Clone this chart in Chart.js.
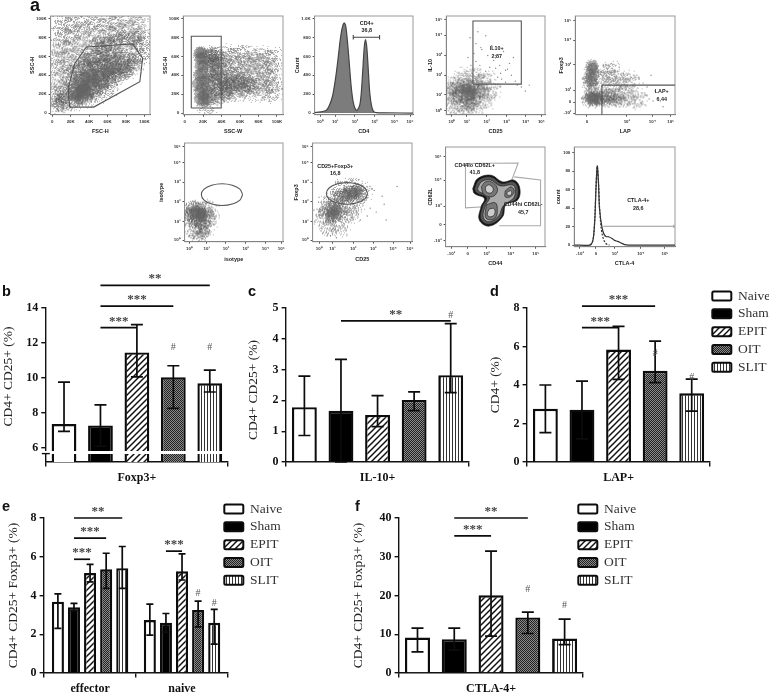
<!DOCTYPE html>
<html>
<head>
<meta charset="utf-8">
<script src="https://cdn.jsdelivr.net/npm/chart.js@4/dist/chart.umd.min.js"></script>
<style>
  html, body { margin: 0; padding: 0; background: #fff; }
  #page { position: relative; width: 769px; height: 695px; overflow: hidden; }
  canvas { position: absolute; filter: blur(0.5px); }
  .letter { position: absolute; font: bold 14.5px "Liberation Sans"; line-height: 1; color: #111; filter: blur(0.3px); }
</style>
</head>
<body>
<div id="page"></div>
<script>
// -- BAR DATA -- //
const group_names = ["Naive", "Sham", "EPIT", "OIT", "SLIT"];

const b_categories = ["Foxp3+"];
const b_means = [7.37, 7.29, 11.46, 10.04, 9.7];
const b_highs = [9.77, 8.46, 13.05, 10.7, 10.45];
const b_lows = [6.95, 6.1, 10.07, 8.27, 9.2];
const b_ticks = [6, 8, 10, 12, 14];
const b_sig_from = [1, 1, 1];
const b_sig_to = [2, 3, 4];
const b_sig_y = [12.88, 14.11, 15.29];
const b_sig_text = ["***", "***", "**"];
const b_hash_slot = [3, 4];
const b_hash_y = [11.78, 11.78];

const c_categories = ["IL-10+"];
const c_means = [1.78, 1.66, 1.53, 2.015, 2.82];
const c_highs = [2.79, 3.33, 2.155, 2.28, 4.49];
const c_lows = [0.86, 0, 1.15, 1.67, 2.25];
const c_ticks = [0, 1, 2, 3, 4, 5];
const c_sig_from = [1];
const c_sig_to = [4];
const c_sig_y = [4.58];
const c_sig_text = ["**"];
const c_hash_slot = [4];
const c_hash_y = [4.78];

const d_categories = ["LAP+"];
const d_means = [2.76, 2.72, 5.84, 4.74, 3.57];
const d_highs = [4.0, 4.2, 7.05, 6.28, 4.31];
const d_lows = [1.53, 1.2, 4.29, 4.12, 2.64];
const d_ticks = [0, 2, 4, 6, 8];
const d_sig_from = [1, 1];
const d_sig_to = [2, 3];
const d_sig_y = [6.98, 8.1];
const d_sig_text = ["***", "***"];
const d_hash_slot = [3, 4];
const d_hash_y = [5.64, 4.43];

const e_categories = ["effector", "naive"];
const e_means = [3.68, 3.39, 5.16, 5.35, 5.41, 2.73, 2.59, 5.25, 3.25, 2.59];
const e_highs = [4.08, 3.59, 5.61, 6.18, 6.53, 3.56, 3.07, 6.15, 3.71, 3.28];
const e_lows = [2.3, 3.2, 4.7, 4.37, 4.37, 1.95, 2.1, 4.8, 2.38, 1.49];
const e_ticks = [0, 2, 4, 6, 8];
const e_sig_from = [1, 1, 1, 6];
const e_sig_to = [2, 3, 4, 7];
const e_sig_y = [5.87, 6.96, 8.0, 6.29];
const e_sig_text = ["***", "***", "**", "***"];
const e_hash_slot = [8, 9];
const e_hash_y = [4.15, 3.63];

const f_categories = ["CTLA-4+"];
const f_means = [9.16, 8.73, 20.04, 14.34, 8.9];
const f_highs = [11.58, 11.58, 31.45, 15.72, 13.9];
const f_lows = [5.44, 5.9, 9.5, 10.19, 7.34];
const f_ticks = [0, 10, 20, 30, 40];
const f_sig_from = [1, 1];
const f_sig_to = [2, 3];
const f_sig_y = [35.4, 40];
const f_sig_text = ["***", "**"];
const f_hash_slot = [3, 4];
const f_hash_y = [21.77, 17.5];

// -- FLOW DATA: gates, histograms and clouds in axis units -- //
const k_ticks = [0, 20, 40, 60, 80, 100];
const k_labels = ["0", "20K", "40K", "60K", "80K", "100K"];
const iso_x_ticks = [5, 22.5, 42, 62, 82, 98.3];
const iso_y_ticks = [1.7, 20, 40.3, 60.4, 80, 96.6];
const log_labels = ["10⁰", "10¹", "10²", "10³", "10⁴", "10⁵"];

const fsc_fog = [[10,95],[22,95],[34,95],[46,97],[58,97],[70,97],[82,97],[94,97],[10,82],[22,82],[34,85],[46,85],[58,85],[70,85],[82,85],[94,85],[8,70],[20,70],[32,72],[44,72],[56,72],[68,72],[80,72],[92,72],[100,78],[8,58],[18,58],[30,60],[42,60],[54,60],[66,60],[78,60],[90,60],[100,62],[8,46],[18,46],[30,48],[42,48],[54,48],[66,50],[78,52],[90,50],[8,34],[18,34],[30,36],[42,36],[54,38],[66,40],[78,44],[7,22],[16,22],[28,22],[40,26],[52,30],[64,34],[6,10],[14,12],[24,12],[36,16],[48,20],[60,26]];
const fsc_body = [[25,45],[35,50],[45,52],[55,55],[65,55],[75,50],[85,55],[30,35],[40,40],[50,45],[60,45],[70,42],[80,45],[22,28],[32,28],[42,30],[52,35],[62,37],[24,18],[34,18],[44,22],[54,28],[10,18],[8,10],[40,58],[55,62],[70,62],[60,75],[75,80],[90,78],[50,72]];
const fsc_core = [[25,18],[30,22],[35,26],[40,32],[45,36],[50,40],[58,44],[65,47],[28,30],[35,38],[42,42],[30,14],[38,20],[28,20],[32,24],[36,28]];
const fsc_gate_x = [19, 45, 95, 98, 87.4, 37, 24.5, 17.3, 18, 19];
const fsc_gate_y = [6.3, 6.3, 33.3, 58, 73.3, 70, 52.6, 26.3, 14, 6.3];

const ssc_fog = [[45,62],[55,62],[65,62],[75,60],[85,60],[95,60],[45,52],[55,52],[65,52],[75,52],[85,50],[95,50],[45,42],[55,42],[65,42],[75,40],[85,40],[95,40],[45,33],[55,32],[65,30],[75,30],[85,30],[95,30],[45,24],[58,22],[70,22],[85,22],[95,22],[30,60],[32,40],[30,20],[25,8]];
const ssc_body = [[26,62],[30,60],[36,60],[26,54],[32,52],[38,50],[26,42],[32,40],[38,38],[26,30],[34,28],[42,28],[50,28],[60,28],[48,36],[60,36],[70,30],[26,18],[36,18],[44,20]];
const ssc_core = [[16,64],[18,64],[16,58],[18,58],[17,50],[18,42],[18,34],[18,26],[20,18],[24,14],[16,22],[14,30],[20,50],[22,34],[24,24],[16,14],[20,12],[15,40]];
const ssc_gate_x = [7.2, 39.6, 39.6, 7.2, 7.2];
const ssc_gate_y = [5.3, 5.3, 81.4, 81.4, 5.3];

const cd4_x = [0, 6, 12, 15, 18, 20, 22, 24, 26, 28, 30, 31.5, 33, 35, 37, 39, 41, 42.5, 44, 46, 47.5, 49, 50.5, 51.7, 53, 54.5, 56, 58, 60, 63, 70, 100];
const cd4_count = [5, 12, 30, 80, 170, 280, 420, 590, 770, 900, 954, 930, 800, 560, 300, 130, 50, 30, 40, 90, 220, 460, 700, 779, 700, 470, 220, 70, 15, 5, 2, 0];
const cd4_gate_x = [39.3, 39.3, 39.3, 66, 66, 66];
const cd4_gate_y = [780, 826, 803, 803, 826, 780];
const cd4_x_ticks = [5.7, 21, 41, 61, 81, 97];
const cd4_y_ticks = [0, 200, 400, 600, 800, 1000];
const cd4_y_labels = ["0", "200", "400", "600", "800", "1.0K"];

const il10_fog = [[10,20],[20,10],[30,10],[40,15],[45,25],[40,35],[30,38],[18,38],[8,30],[12,8],[5,15],[4,25]];
const il10_body = [[15,20],[22,16],[30,20],[35,25],[28,30],[18,28],[12,26],[24,10]];
const il10_core = [[22,22],[25,25],[20,26],[26,21]];
const il10_dots_x = [24,30,36,42,48,54,60,66,28,34,40,46,52,58,64,70,72,26,32,38,44,50,56,62,22,35,45,55,68,76,80,84,30,40,50,25,33,60];
const il10_dots_y = [78,72,66,60,55,50,45,40,62,50,44,70,38,64,52,34,30,42,84,38,48,60,36,46,58,68,34,42,58,28,24,30,54,80,47,50,40,33];
const il10_gate_x = [27, 76, 76, 27, 27];
const il10_gate_y = [31, 31, 95, 95, 31];
const il10_x_ticks = [5.7, 20.8, 41, 61, 80.5, 96.3];
const il10_y_ticks = [4.4, 20, 40, 60.4, 80.5, 96.3];

const lap_fog = [[30,20],[38,20],[46,18],[54,18],[62,16],[30,38],[38,36],[46,34],[54,34],[35,45]];
const lap_body = [[16,36],[17,44],[16,28],[18,18],[22,16],[28,17],[34,17],[42,16],[15,16]];
const lap_core = [[16,40],[17,46],[16,34],[15,17],[19,17],[22,16],[17,50]];
const lap_dots_x = [28,32,36,40,44,48,52,56,60,64,68,72,76,80,60,66,70,74,42,50,58,70,78,88];
const lap_dots_y = [50,46,52,44,48,42,40,38,38,36,32,28,40,24,14,12,10,16,30,28,24,20,14,8];
const lap_gate_x = [26.7, 26.7, 100];
const lap_gate_y = [0, 30, 30];
const lap_x_ticks = [11.7, 51.7, 77.3, 95.7];
const lap_x_labels = ["0", "10³", "10⁴", "10⁵"];
const lap_y_ticks = [1.7, 12.7, 25, 51, 75.5, 95.6];
const lap_y_labels = ["-10²", "0", "10²", "10³", "10⁴", "10⁵"];

const iso_fog = [[8,30],[16,34],[24,32],[26,24],[20,14],[12,12],[5,22],[15,6]];
const iso_body = [[8,28],[15,30],[22,28],[18,20],[12,22],[8,33],[18,12]];
const iso_core = [[15,29],[18,28],[12,30],[16,25]];
const iso_gate_x = [59, 56.2, 48.5, 38, 27.5, 19.8, 17, 19.8, 27.5, 38, 48.5, 56.2, 59];
const iso_gate_y = [47.7, 53.2, 57.2, 58.7, 57.2, 53.2, 47.7, 42.2, 38.2, 36.7, 38.2, 42.2, 47.7];

const fox_fog = [[10,25],[18,15],[28,15],[35,28],[15,38],[25,45],[35,45],[45,42],[50,50],[30,55],[42,55],[40,30]];
const fox_body = [[15,30],[22,25],[28,32],[20,36],[30,46],[38,48],[46,50]];
const fox_core = [[20,30],[24,32],[40,49],[44,51],[34,47],[19,26]];
const fox_dots_x = [52,58,64,70,55,62,48,72,20,24,18,85,74,46,12,6];
const fox_dots_y = [40,34,30,46,26,52,22,38,8,4,6,56,22,28,44,40];
const fox_gate_x = [55.4, 52.6, 45, 34.6, 24.2, 16.6, 13.8, 16.6, 24.2, 34.6, 45, 52.6, 55.4];
const fox_gate_y = [48.9, 54.4, 58.4, 59.9, 58.4, 54.4, 48.9, 43.4, 39.4, 37.9, 39.4, 43.4, 48.9];
const fox_x_ticks = [6.7, 20, 41, 61, 81, 98];

const cd44_x_ticks = [5.7, 22.3, 41.3, 65.7, 90.7];
const cd44_x_labels = ["-10³", "0", "10³", "10⁴", "10⁵"];
const cd44_y_ticks = [6, 22.3, 40.7, 66.7, 90];
const cd44_y_labels = ["-10³", "0", "10³", "10⁴", "10⁵"];
const cd44_gate_lo_x = [39, 20, 20, 73, 64];
const cd44_gate_lo_y = [40, 39, 83.5, 84, 60];
const cd44_gate_hi_x = [69, 95.5, 95.5, 54];
const cd44_gate_hi_y = [70, 67, 21, 21];
const ring_outer = [[27.3,58.3],[32.3,68.3],[45.7,71.7],[57.3,65],[69,66.7],[74.7,58.3],[72.3,46.7],[60.7,42.7],[57.3,30],[44,20.7],[34,26.7],[35.7,40],[39,48.3],[29,53.3],[27.3,58.3]];
const ring_mid = [[29,58],[33.5,67],[45.5,70],[56.5,63.5],[68.5,65],[73,58],[71,47.5],[59.5,41.5],[56,30],[44,22.5],[35.5,27.5],[37,40],[41,49],[31,54],[29,58]];
const ring_inner = [[32,58],[36,65],[45,67],[55,61],[67,62],[70,58],[68.5,49],[58,41],[53.5,31],[44,25],[38,29],[39.5,40],[44,50],[34,55],[32,58]];
const ring_a = [[36,60],[40,65],[46,65],[52,59],[50,52],[44,50],[38,53],[36,60]];
const ring_a2 = [[40,60],[44,62],[48,58],[46,54],[41,55],[40,60]];
const ring_b = [[60,56],[66,60],[69,55],[65,50],[60,50],[60,56]];
const ring_b2 = [[62,55],[66,56],[66,52],[62,52],[62,55]];
const ring_c = [[41,42],[50,44],[52,36],[50,29],[44,27],[40,30],[41,42]];
const ring_c2 = [[44,38],[49,38],[49,32],[44,30],[42,33],[44,38]];

const ctla_x_ticks = [5.6, 21.5, 40.4, 65.9, 90];
const ctla_x_labels = ["-10³", "0", "10³", "10⁴", "10⁵"];
const ctla_y_ticks = [0, 20, 40, 60, 80, 100];
const ctla_solid_x = [0, 15.6, 17.9, 19.2, 20.5, 21.5, 22.8, 24.1, 25, 27.5, 29.8, 32, 34, 37.5, 40, 43, 46, 50, 54, 100];
const ctla_solid_y = [0, 0, 3, 10, 30, 60, 85.7, 65, 40, 19, 11, 9, 9, 7, 5, 4, 2.5, 0.5, 0, 0];
const ctla_dash_x = [15.6, 17.9, 19.2, 20.5, 21.5, 22.8, 24.1, 25, 26.5, 28, 29.5, 31, 33, 35];
const ctla_dash_y = [0, 3, 10, 32, 62, 85, 66, 42, 20, 10, 5, 2, 0.5, 0];
const ctla_gate_x = [28.8, 99, 99, 99];
const ctla_gate_y = [20.3, 20.3, 22, 18.5];

// -- HELPERS -- //
const page = document.getElementById("page");
const serif = "Liberation Serif";
const sans = "Liberation Sans";

function AddCanvas(left, top, width, height) {
    const cv = document.createElement("canvas");
    cv.width = width;
    cv.height = height;
    cv.style.left = left + "px";
    cv.style.top = top + "px";
    page.appendChild(cv);
    return cv.getContext("2d");
}

function Tile(w, h, draw) {
    const cv = document.createElement("canvas");
    cv.width = w;
    cv.height = h;
    const c = cv.getContext("2d");
    draw(c);
    return c.createPattern(cv, "repeat");
}

const white_fill = "#ffffff";
const black_fill = "#000000";
const hatch_fill = Tile(6, 6, c => {
    c.fillStyle = "#fff";
    c.fillRect(0, 0, 6, 6);
    c.strokeStyle = "#111";
    c.lineWidth = 1.5;
    [[-1, 7, 7, -1], [-4, 4, 4, -4], [2, 10, 10, 2]].forEach(p => {
        c.beginPath();
        c.moveTo(p[0], p[1]);
        c.lineTo(p[2], p[3]);
        c.stroke();
    });
});
const dots_fill = Tile(2, 2, c => {
    c.fillStyle = "#8a8a8a";
    c.fillRect(0, 0, 2, 2);
    c.fillStyle = "#222";
    c.fillRect(0, 0, 1, 1);
    c.fillRect(1, 1, 1, 1);
});
const stripes_fill = Tile(3, 1, c => {
    c.fillStyle = "#fff";
    c.fillRect(0, 0, 3, 1);
    c.fillStyle = "#333";
    c.fillRect(0, 0, 1, 1);
});
const group_fills = [white_fill, black_fill, hatch_fill, dots_fill, stripes_fill];

// grainy soft sprites, stacking these gives the cytometer look
function Sprite(radius, density, shade, alpha, seed) {
    const size = radius * 2 + 1;
    const cv = document.createElement("canvas");
    cv.width = size;
    cv.height = size;
    const c = cv.getContext("2d");
    c.fillStyle = "rgba(" + shade + "," + shade + "," + shade + "," + alpha + ")";
    for (let x = 0; x < size; x++) {
        for (let y = 0; y < size; y++) {
            const d = Math.hypot(x - radius, y - radius) / radius;
            if (d >= 1) { continue; }
            const s = Math.sin((x + seed) * 12.9898 + (y + seed * 3) * 78.233) * 43758.5453;
            if (s - Math.floor(s) < density * (1 - d * d)) {
                c.fillRect(x, y, 1, 1);
            }
        }
    }
    return cv;
}
const fog_sprites = [1, 2, 3, 4].map(n => Sprite(12, 0.4, 115, 0.6, n));
const body_sprites = [5, 6, 7, 8].map(n => Sprite(10, 0.75, 85, 0.55, n));
const core_sprites = [9, 10, 11, 12].map(n => Sprite(7, 1.6, 100, 0.5, n));

function Pairs(xs, ys) {
    return xs.map((x, i) => ({ x: x, y: ys[i] }));
}
function Points(list) {
    return list.map(p => ({ x: p[0], y: p[1] }));
}
function Cloud(list, sprites) {
    return { data: Points(list), pointStyle: ctx => sprites[ctx.dataIndex % sprites.length], pointRadius: 5, showLine: false };
}
function Dots(xs, ys) {
    return { data: Pairs(xs, ys), pointRadius: 0.7, pointBackgroundColor: "#888", pointBorderWidth: 0, showLine: false };
}
function Gate(xs, ys, colour, smooth) {
    return { data: Pairs(xs, ys), showLine: true, borderColor: colour || "#555", borderWidth: 1.1, pointRadius: 0, tension: smooth ? 0.35 : 0 };
}
function Ring(list, colour) {
    return { data: Points(list), showLine: true, fill: "shape", backgroundColor: colour, borderColor: "#222", borderWidth: 0.7, pointRadius: 0, tension: 0.4 };
}
function Curve(xs, ys, extra) {
    return Object.assign({ data: Pairs(xs, ys), showLine: true, borderColor: "#333", borderWidth: 1.2, pointRadius: 0, tension: 0.3 }, extra);
}

// -- PLUGINS -- //
function NotesPlugin(notes) {
    return {
        id: "notes",
        afterDatasetsDraw(chart) {
            const c = chart.ctx;
            c.save();
            c.font = "bold 5.4px " + sans;
            c.fillStyle = "#222";
            c.textAlign = "center";
            c.textBaseline = "middle";
            notes.forEach(n => {
                c.fillText(n[0], chart.scales.x.getPixelForValue(n[1]), chart.scales.y.getPixelForValue(n[2]));
            });
            c.restore();
        }
    };
}

function FramePlugin() {
    return {
        id: "frame",
        beforeDatasetsDraw(chart) {
            const a = chart.chartArea;
            const c = chart.ctx;
            c.save();
            c.strokeStyle = "#999";
            c.lineWidth = 1;
            c.strokeRect(a.left, a.top, a.right - a.left, a.bottom - a.top);
            c.restore();
        }
    };
}

function SlotX(chart, slot) {
    return chart.getDatasetMeta(slot % 5).data[Math.floor(slot / 5)].x;
}

function MarksPlugin(p) {
    return {
        id: "marks",
        afterDatasetsDraw(chart) {
            const c = chart.ctx;
            const y = chart.scales.y;
            c.save();
            c.strokeStyle = "#0c0c0c";
            c.lineWidth = 1.7;
            p.means.forEach((m, s) => {
                const x = SlotX(chart, s);
                const hi = y.getPixelForValue(p.highs[s]);
                const lo = y.getPixelForValue(p.lows[s]);
                c.beginPath();
                c.moveTo(x, hi);
                c.lineTo(x, lo);
                c.moveTo(x - p.cap, hi);
                c.lineTo(x + p.cap, hi);
                c.moveTo(x - p.cap, lo);
                c.lineTo(x + p.cap, lo);
                c.stroke();
            });
            c.textAlign = "center";
            p.sig_y.forEach((v, i) => {
                const x0 = SlotX(chart, p.sig_from[i]);
                const x1 = SlotX(chart, p.sig_to[i]);
                const py = y.getPixelForValue(v);
                c.beginPath();
                c.moveTo(x0, py);
                c.lineTo(x1, py);
                c.stroke();
                c.font = "bold 13px " + serif;
                c.fillStyle = "#444";
                c.fillText(p.sig_text[i], (x0 + x1) / 2, py - 3);
            });
            c.font = "10px " + serif;
            c.fillStyle = "#555";
            p.hash_y.forEach((v, i) => {
                c.fillText("#", SlotX(chart, p.hash_slot[i]), y.getPixelForValue(v) + 3);
            });
            if (p.gap) {
                const a = chart.chartArea;
                const g0 = y.getPixelForValue(p.gap[1]);
                const g1 = y.getPixelForValue(p.gap[0]);
                c.clearRect(a.left - 2, g0, a.right - a.left + 2, g1 - g0);
                c.lineWidth = 1.4;
                c.beginPath();
                c.moveTo(a.left - 4, g1);
                c.lineTo(a.left + 4, g1);
                c.stroke();
            }
            c.restore();
        }
    };
}

// -- BAR PANELS -- //
function BarPanel(p) {
    const [l, t, r, b] = p.rect;
    const ml = l - p.title_x + 8.1;
    const mt = 38, mr = 8, mb = 28;
    const ctx = AddCanvas(l - ml, t - mt, r - l + ml + mr, b - t + mt + mb);
    const datasets = group_names.map((name, i) => ({
        label: name,
        data: p.categories.map((cat, k) => p.means[i + k * 5]),
        backgroundColor: group_fills[i],
        borderColor: "#0c0c0c",
        borderWidth: 2.4,
        categoryPercentage: p.cat_pct,
        barPercentage: p.bar_pct
    }));
    return new Chart(ctx, {
        type: "bar",
        data: { labels: p.categories, datasets: datasets },
        plugins: [MarksPlugin(p)],
        options: {
            responsive: false,
            animation: false,
            layout: { padding: { top: mt, right: mr } },
            plugins: { legend: { display: false }, tooltip: { enabled: false } },
            scales: {
                x: {
                    afterFit: s => { s.height = mb; },
                    grid: { drawOnChartArea: false, tickLength: 4.5, color: "#111", lineWidth: 1.4 },
                    border: { color: "#111", width: 1.4 },
                    ticks: { color: "#111", padding: 4.5, font: { family: serif, size: 12, weight: "bold" }, maxRotation: 0 }
                },
                y: {
                    min: p.y_min,
                    max: p.y_max,
                    afterFit: s => { s.width = ml; },
                    afterBuildTicks: s => { s.ticks = p.ticks.map(v => ({ value: v })); },
                    grid: { drawOnChartArea: false, tickLength: 4.5, color: "#111", lineWidth: 1.4 },
                    border: { color: "#111", width: 1.4 },
                    ticks: { color: "#111", padding: 3, autoSkip: false, font: { family: serif, size: 12, weight: "bold" } },
                    title: { display: true, text: p.y_title, color: "#222", padding: 0, font: { family: serif, size: 13.5, weight: "normal" } }
                }
            }
        }
    });
}

BarPanel({ rect: [46, 308, 229, 462], title_x: 8.3, y_min: 5.2, y_max: 14, ticks: b_ticks, categories: b_categories,
    means: b_means, highs: b_highs, lows: b_lows, sig_from: b_sig_from, sig_to: b_sig_to, sig_y: b_sig_y, sig_text: b_sig_text,
    hash_slot: b_hash_slot, hash_y: b_hash_y, y_title: "     CD4+ CD25+ (%)", cat_pct: 1, bar_pct: 0.68, cap: 6, gap: [5.68, 5.84] });
BarPanel({ rect: [286, 308, 469, 462], title_x: 253, y_min: 0, y_max: 5, ticks: c_ticks, categories: c_categories,
    means: c_means, highs: c_highs, lows: c_lows, sig_from: c_sig_from, sig_to: c_sig_to, sig_y: c_sig_y, sig_text: c_sig_text,
    hash_slot: c_hash_slot, hash_y: c_hash_y, y_title: "CD4+ CD25+ (%)   ", cat_pct: 1, bar_pct: 0.68, cap: 6 });
BarPanel({ rect: [527, 308, 710, 462], title_x: 495, y_min: 0, y_max: 8, ticks: d_ticks, categories: d_categories,
    means: d_means, highs: d_highs, lows: d_lows, sig_from: d_sig_from, sig_to: d_sig_to, sig_y: d_sig_y, sig_text: d_sig_text,
    hash_slot: d_hash_slot, hash_y: d_hash_y, y_title: "CD4+ (%)", cat_pct: 1, bar_pct: 0.68, cap: 6 });
BarPanel({ rect: [44, 518, 228, 673], title_x: 13, y_min: 0, y_max: 8, ticks: e_ticks, categories: e_categories,
    means: e_means, highs: e_highs, lows: e_lows, sig_from: e_sig_from, sig_to: e_sig_to, sig_y: e_sig_y, sig_text: e_sig_text,
    hash_slot: e_hash_slot, hash_y: e_hash_y, y_title: "CD4+ CD25+ Foxp3+ (%)", cat_pct: 0.875, bar_pct: 0.75, cap: 3.5 });
BarPanel({ rect: [399, 518, 583, 673], title_x: 358, y_min: 0, y_max: 40, ticks: f_ticks, categories: f_categories,
    means: f_means, highs: f_highs, lows: f_lows, sig_from: f_sig_from, sig_to: f_sig_to, sig_y: f_sig_y, sig_text: f_sig_text,
    hash_slot: f_hash_slot, hash_y: f_hash_y, y_title: "CD4+ CD25+ Foxp3+ (%)", cat_pct: 1, bar_pct: 0.68, cap: 6 });

// -- LEGENDS -- //
function LegendPanel(box_left, first_row) {
    const ctx = AddCanvas(box_left - 4, first_row - 11, 160, 100);
    new Chart(ctx, {
        type: "bar",
        data: {
            labels: [],
            datasets: group_names.map((name, i) => ({ label: name, data: [], backgroundColor: group_fills[i], borderColor: "#0c0c0c", borderWidth: 2 }))
        },
        options: {
            responsive: false,
            animation: false,
            scales: { x: { display: false }, y: { display: false } },
            plugins: {
                tooltip: { enabled: false },
                legend: {
                    position: "left",
                    align: "start",
                    labels: { boxWidth: 19, boxHeight: 9, padding: 4.3, color: "#333", font: { family: serif, size: 13.5 }, useBorderRadius: true, borderRadius: 1.5 }
                }
            }
        }
    });
}
LegendPanel(712, 296);
LegendPanel(224, 509);
LegendPanel(578, 509);

// -- FLOW PANELS -- //
function FlowPanel(p) {
    const [l, t, r, b] = p.rect;
    const ml = l - p.y_title_x + 3.3;
    const mt = 6, mr = 8;
    const mb = p.x_title_y - b + 3.3;
    const ctx = AddCanvas(l - ml, t - mt, r - l + ml + mr, b - t + mt + mb);
    const axis = (range, ticks, labels, title, fit) => ({
        type: "linear",
        min: range[0],
        max: range[1],
        afterFit: fit,
        afterBuildTicks: s => { s.ticks = ticks.map(v => ({ value: v })); },
        grid: { drawOnChartArea: false, tickLength: 2, color: "#222", lineWidth: 0.8 },
        border: { color: "#333", width: 1 },
        ticks: { color: "#333", padding: 2, autoSkip: false, maxRotation: 0, font: { family: sans, size: 4.4, weight: "bold" }, callback: (v, i) => labels[i] },
        title: { display: true, text: title, color: "#222", padding: 0, font: { family: sans, size: 5.5, weight: "bold" } }
    });
    new Chart(ctx, {
        type: "scatter",
        // listed back to front, chart.js paints the first dataset last
        data: { datasets: p.layers.slice().reverse() },
        plugins: [FramePlugin(), NotesPlugin(p.notes || [])],
        options: {
            responsive: false,
            animation: false,
            layout: { padding: { top: mt, right: mr } },
            plugins: { legend: { display: false }, tooltip: { enabled: false } },
            scales: {
                x: axis(p.x_range, p.x_ticks, p.x_labels, p.x_title, s => { s.height = mb; }),
                y: axis(p.y_range, p.y_ticks, p.y_labels, p.y_title, s => { s.width = ml; })
            }
        }
    });
}

FlowPanel({ rect: [51, 16, 151, 115], y_title_x: 32.7, x_title_y: 132, x_range: [-1.8, 106], y_range: [-1.75, 102.8],
    x_ticks: k_ticks, x_labels: k_labels, y_ticks: k_ticks, y_labels: k_labels, x_title: "FSC-H", y_title: "SSC-H",
    layers: [Cloud(fsc_fog, fog_sprites), Cloud(fsc_body, body_sprites), Cloud(fsc_core, core_sprites), Gate(fsc_gate_x, fsc_gate_y)] });

FlowPanel({ rect: [183, 16, 283, 115], y_title_x: 165, x_title_y: 132, x_range: [-1.44, 106.5], y_range: [-1.75, 102.8],
    x_ticks: k_ticks, x_labels: k_labels, y_ticks: k_ticks, y_labels: k_labels, x_title: "SSC-W", y_title: "SSC-H",
    layers: [Cloud(ssc_fog, fog_sprites), Cloud(ssc_body, body_sprites), Cloud(ssc_core, core_sprites), Gate(ssc_gate_x, ssc_gate_y)] });

FlowPanel({ rect: [315, 16, 414, 115], y_title_x: 297.7, x_title_y: 132, x_range: [0, 100], y_range: [-17.5, 1028],
    x_ticks: cd4_x_ticks, x_labels: log_labels, y_ticks: cd4_y_ticks, y_labels: cd4_y_labels, x_title: "CD4", y_title: "Count",
    layers: [Curve(cd4_x, cd4_count, { fill: "origin", backgroundColor: "#7c7c7c", borderColor: "#444" }), Gate(cd4_gate_x, cd4_gate_y, "#444")],
    notes: [["CD4+", 53, 950], ["36,8", 53, 873]] });

FlowPanel({ rect: [446, 16, 545, 115], y_title_x: 430, x_title_y: 132, x_range: [0, 100], y_range: [0, 100],
    x_ticks: il10_x_ticks, x_labels: log_labels, y_ticks: il10_y_ticks, y_labels: log_labels, x_title: "CD25", y_title: "IL-10",
    layers: [Dots(il10_dots_x, il10_dots_y), Cloud(il10_fog, fog_sprites), Cloud(il10_body, body_sprites), Cloud(il10_core, core_sprites), Gate(il10_gate_x, il10_gate_y)],
    notes: [["IL10+", 51, 67], ["2,87", 51, 59.4]] });

FlowPanel({ rect: [575, 16, 675, 115], y_title_x: 561, x_title_y: 132, x_range: [0, 100], y_range: [0, 100],
    x_ticks: lap_x_ticks, x_labels: lap_x_labels, y_ticks: lap_y_ticks, y_labels: lap_y_labels, x_title: "LAP", y_title: "Foxp3",
    layers: [Dots(lap_dots_x, lap_dots_y), Cloud(lap_fog, fog_sprites), Cloud(lap_body, body_sprites), Cloud(lap_core, core_sprites), Gate(lap_gate_x, lap_gate_y)],
    notes: [["LAP+", 86.7, 23.5], ["6,44", 86.7, 15.8]] });

FlowPanel({ rect: [185, 143, 284, 242], y_title_x: 161.7, x_title_y: 260, x_range: [0, 100], y_range: [0, 100],
    x_ticks: iso_x_ticks, x_labels: log_labels, y_ticks: iso_y_ticks, y_labels: log_labels, x_title: "isotype", y_title: "isotype",
    layers: [Cloud(iso_fog, fog_sprites), Cloud(iso_body, body_sprites), Cloud(iso_core, core_sprites), Gate(iso_gate_x, iso_gate_y, "#555", true)] });

FlowPanel({ rect: [313, 143, 413, 242], y_title_x: 296.7, x_title_y: 260, x_range: [0, 100], y_range: [0, 100],
    x_ticks: fox_x_ticks, x_labels: log_labels, y_ticks: iso_y_ticks, y_labels: log_labels, x_title: "CD25", y_title: "Foxp3",
    layers: [Dots(fox_dots_x, fox_dots_y), Cloud(fox_fog, fog_sprites), Cloud(fox_body, body_sprites), Cloud(fox_core, core_sprites), Gate(fox_gate_x, fox_gate_y, "#555", true)],
    notes: [["CD25+Foxp3+", 22.8, 76.4], ["16,8", 22.8, 69]] });

FlowPanel({ rect: [446, 147, 546, 247], y_title_x: 430.7, x_title_y: 264, x_range: [0, 100], y_range: [0, 100],
    x_ticks: cd44_x_ticks, x_labels: cd44_x_labels, y_ticks: cd44_y_ticks, y_labels: cd44_y_labels, x_title: "CD44", y_title: "CD62L",
    layers: [Gate(cd44_gate_lo_x, cd44_gate_lo_y, "#aaa"), Gate(cd44_gate_hi_x, cd44_gate_hi_y, "#aaa"),
        Ring(ring_outer, "#111"), Ring(ring_mid, "#555"), Ring(ring_inner, "#aaa"), Ring(ring_a, "#777"), Ring(ring_a2, "#ccc"), Ring(ring_b, "#777"), Ring(ring_b2, "#ccc"), Ring(ring_c, "#777"), Ring(ring_c2, "#ccc")],
    notes: [["CD44lo CD62L+", 29.3, 81.7], ["41,8", 29.3, 74.3], ["CD44hi CD62L-", 78, 42.3], ["45,7", 78, 34.7]] });

FlowPanel({ rect: [574, 147, 675, 247], y_title_x: 558, x_title_y: 264, x_range: [0, 100], y_range: [-1.8, 106],
    x_ticks: ctla_x_ticks, x_labels: ctla_x_labels, y_ticks: ctla_y_ticks, y_labels: ctla_y_ticks, x_title: "CTLA-4", y_title: "count",
    layers: [Gate(ctla_gate_x, ctla_gate_y, "#999"), Curve(ctla_solid_x, ctla_solid_y), Curve(ctla_dash_x, ctla_dash_y, { borderDash: [2, 1.5] })],
    notes: [["CTLA-4+", 63.6, 47.9], ["28,6", 63.6, 39.6]] });

// -- PANEL LETTERS -- //
const letter_text = ["a", "b", "c", "d", "e", "f"];
const letter_left = [30, 2, 248, 490, 2, 355];
const letter_base = [12, 297, 297, 297, 512, 512];
letter_text.forEach((txt, i) => {
    const el = document.createElement("div");
    el.className = "letter";
    el.textContent = txt;
    el.style.left = letter_left[i] + "px";
    const size = i === 0 ? 18 : 14.5;
    el.style.fontSize = size + "px";
    el.style.top = (letter_base[i] - size * 0.9) + "px";
    page.appendChild(el);
});
</script>
</body>
</html>
